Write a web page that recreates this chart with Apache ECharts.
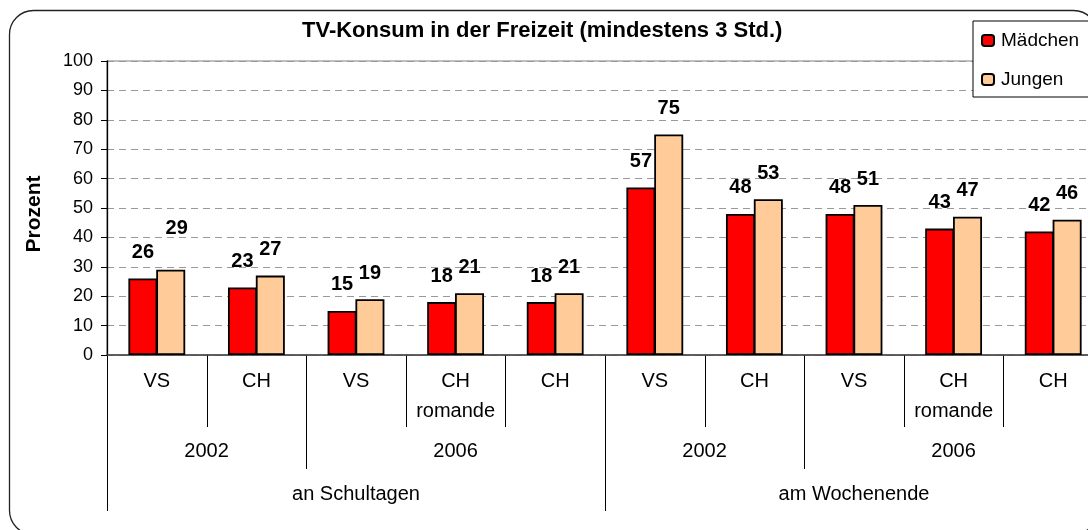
<!DOCTYPE html>
<html>
<head>
<meta charset="utf-8">
<title>TV-Konsum in der Freizeit</title>
<script src="https://cdn.jsdelivr.net/npm/echarts@6/dist/echarts.min.js"></script>
<style>
  html, body { margin: 0; padding: 0; background: #fff; overflow: hidden; }
  /* the drawing runs a little past the right edge of the page */
  #chart { width: 1120px; height: 530px; }
</style>
</head>
<body>
<div id="chart"></div>
<script>
// Categories on the first axis level, then the year and period groups beneath them
const categories = ['VS', 'CH', 'VS', 'CH\nromande', 'CH', 'VS', 'CH', 'VS', 'CH\nromande', 'CH'];
const yearLabels = ['2002', '2006', '2002', '2006'];
const yearSpans = [2, 3, 2, 3];
const periodLabels = ['an Schultagen', 'am Wochenende'];
const periodSpans = [5, 5];

// Share (%) watching at least 3 hours of TV
const maedchen = [26, 23, 15, 18, 18, 57, 48, 48, 43, 42];
const jungen = [29, 27, 19, 21, 21, 75, 53, 51, 47, 46];

const yMin = 0, yMax = 100, yStep = 10;

const FONT = '"Liberation Sans", Arial, sans-serif';
const chart = echarts.init(document.getElementById('chart'), null, { renderer: 'canvas' });

const labelBase = {
  show: true,
  position: 'top',
  distance: 16,
  color: '#000',
  fontFamily: FONT,
  fontWeight: 'bold',
  fontSize: 20
};

chart.setOption({
  animation: false,
  backgroundColor: '#fff',
  textStyle: { fontFamily: FONT },
  title: {
    text: 'TV-Konsum in der Freizeit (mindestens 3 Std.)',
    left: 302,
    top: 20,
    padding: 0,
    textStyle: { fontFamily: FONT, fontWeight: 'bold', fontSize: 22, color: '#000' }
  },
  legend: {
    orient: 'vertical',
    left: 973,
    top: 21,
    padding: [10, 20, 8, 8],
    itemGap: 20,
    itemWidth: 12,
    itemHeight: 11,
    backgroundColor: '#fff',
    borderColor: '#000',
    borderWidth: 1,
    borderRadius: 0,
    textStyle: { fontFamily: FONT, fontSize: 19, color: '#000', padding: [0, 0, 0, 2] },
    data: ['Mädchen', 'Jungen']
  },
  grid: {
    left: 107,
    top: 61,
    width: 996,
    height: 294,
    show: true,
    borderColor: '#808080',
    borderWidth: 1.2,
    backgroundColor: 'transparent'
  },
  xAxis: {
    type: 'category',
    data: categories,
    axisLine: { show: true, lineStyle: { color: '#404040', width: 1.6 } },
    axisTick: { show: false },
    axisLabel: {
      interval: 0,
      margin: 11,
      color: '#000',
      fontFamily: FONT,
      fontSize: 20,
      lineHeight: 30
    },
    splitLine: { show: false }
  },
  yAxis: {
    type: 'value',
    min: yMin,
    max: yMax,
    interval: yStep,
    name: 'Prozent',
    nameLocation: 'middle',
    nameGap: 62,
    nameTextStyle: {
      fontFamily: FONT, fontWeight: 'bold', fontSize: 21, color: '#000',
      padding: [0, 12, 0, 0]
    },
    axisLine: { show: true, lineStyle: { color: '#000', width: 1.3 } },
    axisTick: { show: true, inside: false, length: 6, lineStyle: { color: '#000', width: 1 } },
    axisLabel: { margin: 14, color: '#000', fontFamily: FONT, fontSize: 18 },
    splitLine: { show: true, lineStyle: { color: '#999', type: [7, 5], width: 1 } }
  },
  series: [
    {
      name: 'Mädchen',
      type: 'bar',
      barWidth: 29,
      barGap: '-4%',
      data: maedchen,
      itemStyle: { color: '#FF0000', borderColor: '#000', borderWidth: 1.8 },
      label: labelBase
    },
    {
      name: 'Jungen',
      type: 'bar',
      barWidth: 29,
      data: jungen.map(function (v, i) {
        // the first boys' label sits higher and a touch to the right
        return i === 0 ? { value: v, label: { distance: 31, offset: [6, 0] } } : v;
      }),
      itemStyle: { color: '#FFCC99', borderColor: '#000', borderWidth: 1.8 },
      label: labelBase
    }
  ]
});

// Hierarchical axis: separators and group labels placed from the category scale
function buildAxisGroups() {
  const c0 = chart.convertToPixel({ xAxisIndex: 0 }, 0);
  const c1 = chart.convertToPixel({ xAxisIndex: 0 }, 1);
  const band = c1 - c0;
  const axisY = chart.convertToPixel({ yAxisIndex: 0 }, yMin);
  const edge = function (i) { return c0 - band / 2 + i * band; };

  const yearBounds = {}, periodBounds = {};
  let acc = 0;
  yearSpans.forEach(function (s) { yearBounds[acc] = true; acc += s; yearBounds[acc] = true; });
  acc = 0;
  periodSpans.forEach(function (s) { periodBounds[acc] = true; acc += s; periodBounds[acc] = true; });

  const elements = [];
  // Rounded outer frame
  elements.push({
    type: 'rect',
    z: -10,
    shape: { x: 9.5, y: 10.5, width: 1088, height: 524, r: 24 },
    style: { fill: 'none', stroke: '#222', lineWidth: 1.3 }
  });

  for (let b = 0; b <= categories.length; b++) {
    let len = 72;
    if (periodBounds[b]) len = 156;
    else if (yearBounds[b]) len = 114;
    const x = Math.round(edge(b)) + 0.5;
    elements.push({
      type: 'line',
      shape: { x1: x, y1: axisY, x2: x, y2: axisY + len },
      style: { stroke: '#000', lineWidth: 1 }
    });
  }

  const textEl = function (t, x, y) {
    return {
      type: 'text',
      x: x,
      y: y,
      style: {
        text: t, align: 'center', verticalAlign: 'middle',
        fontFamily: FONT, fontSize: 20, fill: '#000'
      }
    };
  };

  acc = 0;
  yearLabels.forEach(function (t, k) {
    const mid = (edge(acc) + edge(acc + yearSpans[k])) / 2;
    elements.push(textEl(t, mid, axisY + 96));
    acc += yearSpans[k];
  });
  acc = 0;
  periodLabels.forEach(function (t, k) {
    const mid = (edge(acc) + edge(acc + periodSpans[k])) / 2;
    elements.push(textEl(t, mid, axisY + 139));
    acc += periodSpans[k];
  });

  chart.setOption({ graphic: elements });
}
buildAxisGroups();
</script>
</body>
</html>
